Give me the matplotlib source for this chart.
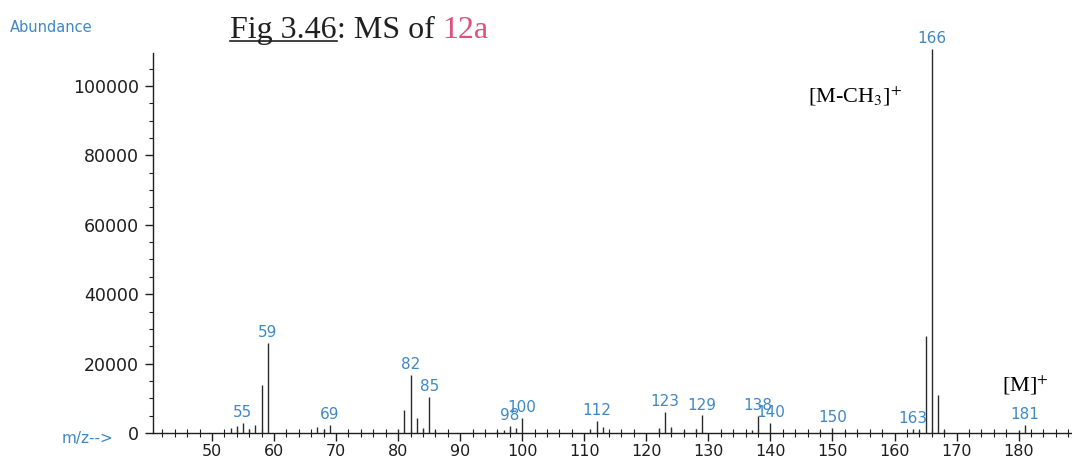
import matplotlib
matplotlib.use("Agg")
import matplotlib.pyplot as plt
from matplotlib.ticker import MultipleLocator, FixedLocator
from matplotlib.lines import Line2D

# Mass spectrum of compound 12a (EI), m/z and abundance
mz = [53, 54, 55, 56, 57, 58, 59,
      67, 68, 69,
      80, 81, 82, 83, 84, 85, 86,
      96, 97, 98, 99, 100,
      111, 112, 113,
      122, 123, 124, 126, 128, 129,
      137, 138, 140,
      148, 150, 152,
      163, 164, 165, 166, 167, 168,
      180, 181]
abundance = [1500, 1900, 3000, 1200, 2400, 13800, 26000,
             1600, 1200, 2300,
             1200, 6700, 16700, 4300, 1300, 10400, 1000,
             700, 1000, 2000, 1500, 4400,
             1200, 3600, 1600,
             1400, 6000, 1600, 800, 1200, 5100,
             800, 5000, 3000,
             600, 1500, 500,
             1100, 900, 28000, 110600, 11000, 800,
             800, 2400]
labeled_mz = [55, 59, 69, 82, 85, 98, 100, 112, 123, 129, 138, 140,
              150, 163, 166, 181]

y_ticks = [0, 20000, 40000, 60000, 80000, 100000]
x_ticks = list(range(50, 190, 10))

W, H = 1072, 461
BLUE = "#3f88c5"
INK = "#1e1e1e"
plt.rcParams["mathtext.fontset"] = "stix"

fig = plt.figure(figsize=(W / 100, H / 100), dpi=100)
fig.patch.set_facecolor("white")
ax = fig.add_axes([153 / W, 28 / H, (W - 153) / W, (433 - 53) / H])

ax.vlines(mz, 0, abundance, colors="#2a2a2a", linewidth=1.0, clip_on=False)

lookup = dict(zip(mz, abundance))
for m in labeled_mz:
    ax.annotate(str(m), xy=(m, lookup[m]), xytext=(0, 2),
                textcoords="offset points", ha="center", va="bottom",
                color=BLUE, fontsize=11, family="DejaVu Sans",
                annotation_clip=False)

ax.set_xlim(40.5, 188.6)
ax.set_ylim(0, 109500)

for side in ("top", "right"):
    ax.spines[side].set_visible(False)
for side in ("left", "bottom"):
    ax.spines[side].set_color(INK)
    ax.spines[side].set_linewidth(1.0)

ax.xaxis.set_major_locator(FixedLocator(x_ticks))
ax.xaxis.set_minor_locator(MultipleLocator(2))
ax.yaxis.set_major_locator(FixedLocator(y_ticks))
ax.yaxis.set_minor_locator(MultipleLocator(5000))
ax.set_xticklabels([str(v) for v in x_ticks])
ax.set_yticklabels([str(v) for v in y_ticks])

ax.tick_params(axis="x", which="major", direction="out", length=6,
               width=1.0, color=INK, labelsize=11.5, labelcolor=INK, pad=2)
ax.tick_params(axis="x", which="minor", direction="inout", length=6,
               width=0.8, color=INK)
ax.tick_params(axis="y", which="major", direction="out", length=6,
               width=1.0, color=INK, labelsize=12.5, labelcolor=INK, pad=4)
ax.tick_params(axis="y", which="minor", direction="out", length=3,
               width=0.8, color=INK)

# Instrument captions
fig.text(10 / W, 1 - 27 / H, "Abundance", color=BLUE, fontsize=10.5,
         ha="left", va="center", family="DejaVu Sans")
fig.text(62 / W, 1 - 438 / H, "m/z-->", color=BLUE, fontsize=11,
         ha="left", va="center", family="DejaVu Sans")

# Ion annotations
ax.text(808 / W, 1 - 103 / H, r"[M-CH$_3$]$^{+}$", transform=fig.transFigure,
        family="Liberation Serif", fontsize=16, color="black",
        ha="left", va="baseline")
ax.text(1002 / W, 1 - 391 / H, r"[M]$^{+}$", transform=fig.transFigure,
        family="Liberation Serif", fontsize=16, color="black",
        ha="left", va="baseline")

# Figure caption with underlined figure number and coloured compound id
fig.canvas.draw()
renderer = fig.canvas.get_renderer()
base_y = 1 - 38 / H
t1 = fig.text(230 / W, base_y, "Fig 3.46", family="Liberation Serif",
              fontsize=23, color="#202020", ha="left", va="baseline")
bb1 = t1.get_window_extent(renderer)
t2 = fig.text(bb1.x1 / W, base_y, ": MS of", family="Liberation Serif",
              fontsize=23, color="#202020", ha="left", va="baseline")
bb2 = t2.get_window_extent(renderer)
space = 0.25 * 23 * 100 / 72
fig.text((bb2.x1 + space) / W, base_y, "12a", family="Liberation Serif",
         fontsize=23, color="#e0507a", ha="left", va="baseline")
fig.add_artist(Line2D([bb1.x0 / W, bb1.x1 / W], [1 - 41.5 / H, 1 - 41.5 / H],
                      transform=fig.transFigure, color="#202020", linewidth=1.2))

fig.savefig("out.png", dpi=100, facecolor="white")
